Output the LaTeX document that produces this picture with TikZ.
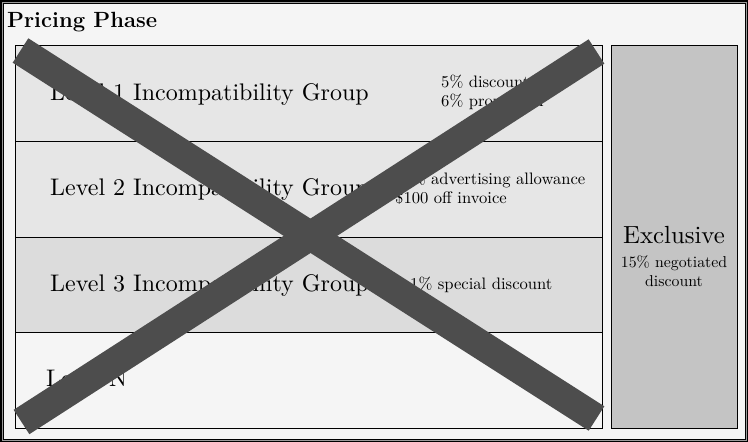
\documentclass[tikz,border=0pt]{standalone}
\usepackage{fontspec}
\usepackage{tikz}
\usepackage{xcolor}
\usetikzlibrary{positioning}

\newfontfamily\widefont{lmroman10-regular.otf}

\definecolor{phasebg}{HTML}{F5F5F5}
\definecolor{groupa}{HTML}{E6E6E6}
\definecolor{groupb}{HTML}{DCDCDC}
\definecolor{exclbg}{HTML}{C4C4C4}
\definecolor{framegray}{HTML}{9A9A9A}
\definecolor{crossgray}{HTML}{4D4D4D}

\begin{document}
\begin{tikzpicture}[x=1pt, y=-1pt,
        group/.style={draw, line width=0.9pt, minimum width=587pt, minimum height=95.75pt, inner sep=0pt, anchor=north west},
        level/.style={anchor=base west, inner sep=0pt, font=\widefont\fontsize{24}{28}\selectfont},
        offer/.style={anchor=base west, inner sep=0pt, align=left, font=\widefont\fontsize{16.6}{19}\selectfont},
        cross/.style={crossgray, line width=29pt}]
        \useasboundingbox (0,0) rectangle (748,442);

        % frame of the phase
        \fill[black] (0,0) rectangle (748,442);
        \fill[framegray] (1.5,1.5) rectangle (746.5,440.5);
        \fill[black] (2.5,2.5) rectangle (745.5,439.5);
        \fill[phasebg] (3.5,3.5) rectangle (744.5,438.5);
        \node[anchor=base west, inner sep=0pt, font=\bfseries\fontsize{22}{26}\selectfont] (title) at (7,27) {Pricing Phase};

        \node[group, fill=groupa] (g1) at (15,45) {};
        \node[group, fill=groupa] (g2) at (15,140.75) {};
        \node[group, fill=groupb] (g3) at (15,236.5) {};
        \node[group, fill=phasebg] (gn) at (15,332.25) {};

        \node[level] (l1) at (50,100) {Level 1 Incompatibility Group};
        \node[level] (l2) at (50,195) {Level 2 Incompatibility Group};
        \node[level] (l3) at (50,291) {Level 3 Incompatibility Group};
        \node[level] (ln) at (46,386) {Level N};

        % base of a two-line text is its last line
        \node[offer] (o1) at (441,106) {5\% discount\\6\% promotion};
        \node[offer] (o2) at (395,203) {10\% advertising allowance\\\$100 off invoice};
        \node[offer] (o3) at (410,289) {1\% special discount};

        \node[draw, line width=0.9pt, fill=exclbg, minimum width=126pt, minimum height=383pt, inner sep=0pt] (excl) at (674,236.5) {};
        \node[anchor=base, inner sep=0pt, font=\widefont\fontsize{24.8}{28}\selectfont] (excl title) at (674,243) {Exclusive};
        \node[anchor=base, inner sep=0pt, align=center, font=\widefont\fontsize{15.8}{19}\selectfont] (excl note) at (674,286) {15\% negotiated\\discount};

        % crossed out
        \coordinate (cross nw) at (20.5,50.5);
        \coordinate (cross se) at (596.5,418.5);
        \coordinate (cross ne) at (596.5,51.5);
        \coordinate (cross sw) at (21.5,422);
        \draw[cross] (cross nw) -- (cross se);
        \draw[cross] (cross ne) -- (cross sw);
    \end{tikzpicture}
\end{document}
